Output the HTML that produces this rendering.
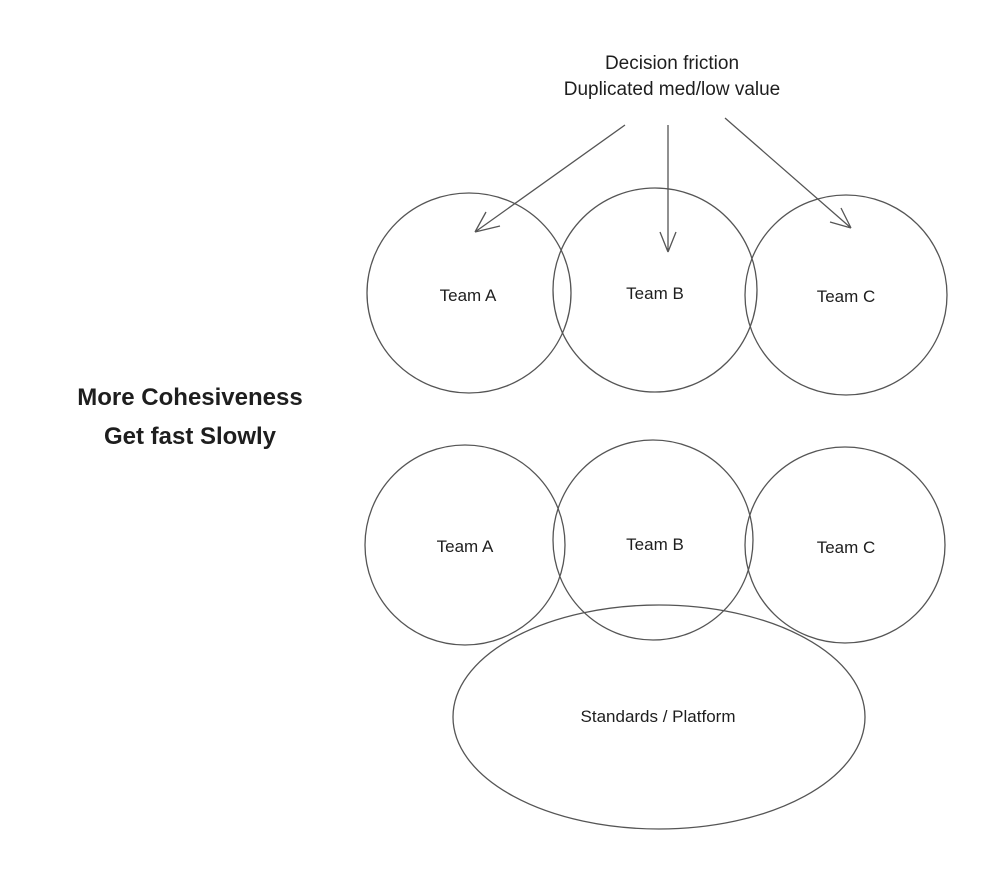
<!DOCTYPE html>
<html><head><meta charset="utf-8"><style>
html,body{margin:0;padding:0;background:#fff;}
svg{display:block}
text{font-family:"Liberation Sans",sans-serif;fill:#1e1e1e}
</style></head><body>
<svg width="992" height="890" viewBox="0 0 992 890" xmlns="http://www.w3.org/2000/svg">
<g fill="none" stroke="#555" stroke-width="1.3">
<ellipse cx="469" cy="293" rx="102" ry="100"/>
<ellipse cx="655" cy="290" rx="102" ry="102"/>
<ellipse cx="846" cy="295" rx="101" ry="100"/>
<ellipse cx="465" cy="545" rx="100" ry="100"/>
<ellipse cx="653" cy="540" rx="100" ry="100"/>
<ellipse cx="845" cy="545" rx="100" ry="98"/>
<ellipse cx="659" cy="717" rx="206" ry="112"/>
<path d="M625 125 L475 232 M475 232 L500 226 M475 232 L486 212"/>
<path d="M668 125 L668 252 M668 252 L660 232 M668 252 L676 232"/>
<path d="M725 118 L851 228 M851 228 L830 222 M851 228 L841 208"/>
</g>
<g font-size="17" text-anchor="middle" fill="#333">
<text x="468" y="301">Team A</text>
<text x="655" y="299">Team B</text>
<text x="846" y="302">Team C</text>
<text x="465" y="552">Team A</text>
<text x="655" y="550">Team B</text>
<text x="846" y="553">Team C</text>
<text x="658" y="722">Standards / Platform</text>
</g>
<g font-size="19" text-anchor="middle">
<text x="672" y="69">Decision friction</text>
<text x="672" y="95">Duplicated med/low value</text>
</g>
<g font-size="24" text-anchor="middle" font-weight="bold">
<text x="190" y="405">More Cohesiveness</text>
<text x="190" y="444">Get fast Slowly</text>
</g>
</svg>
</body></html>
